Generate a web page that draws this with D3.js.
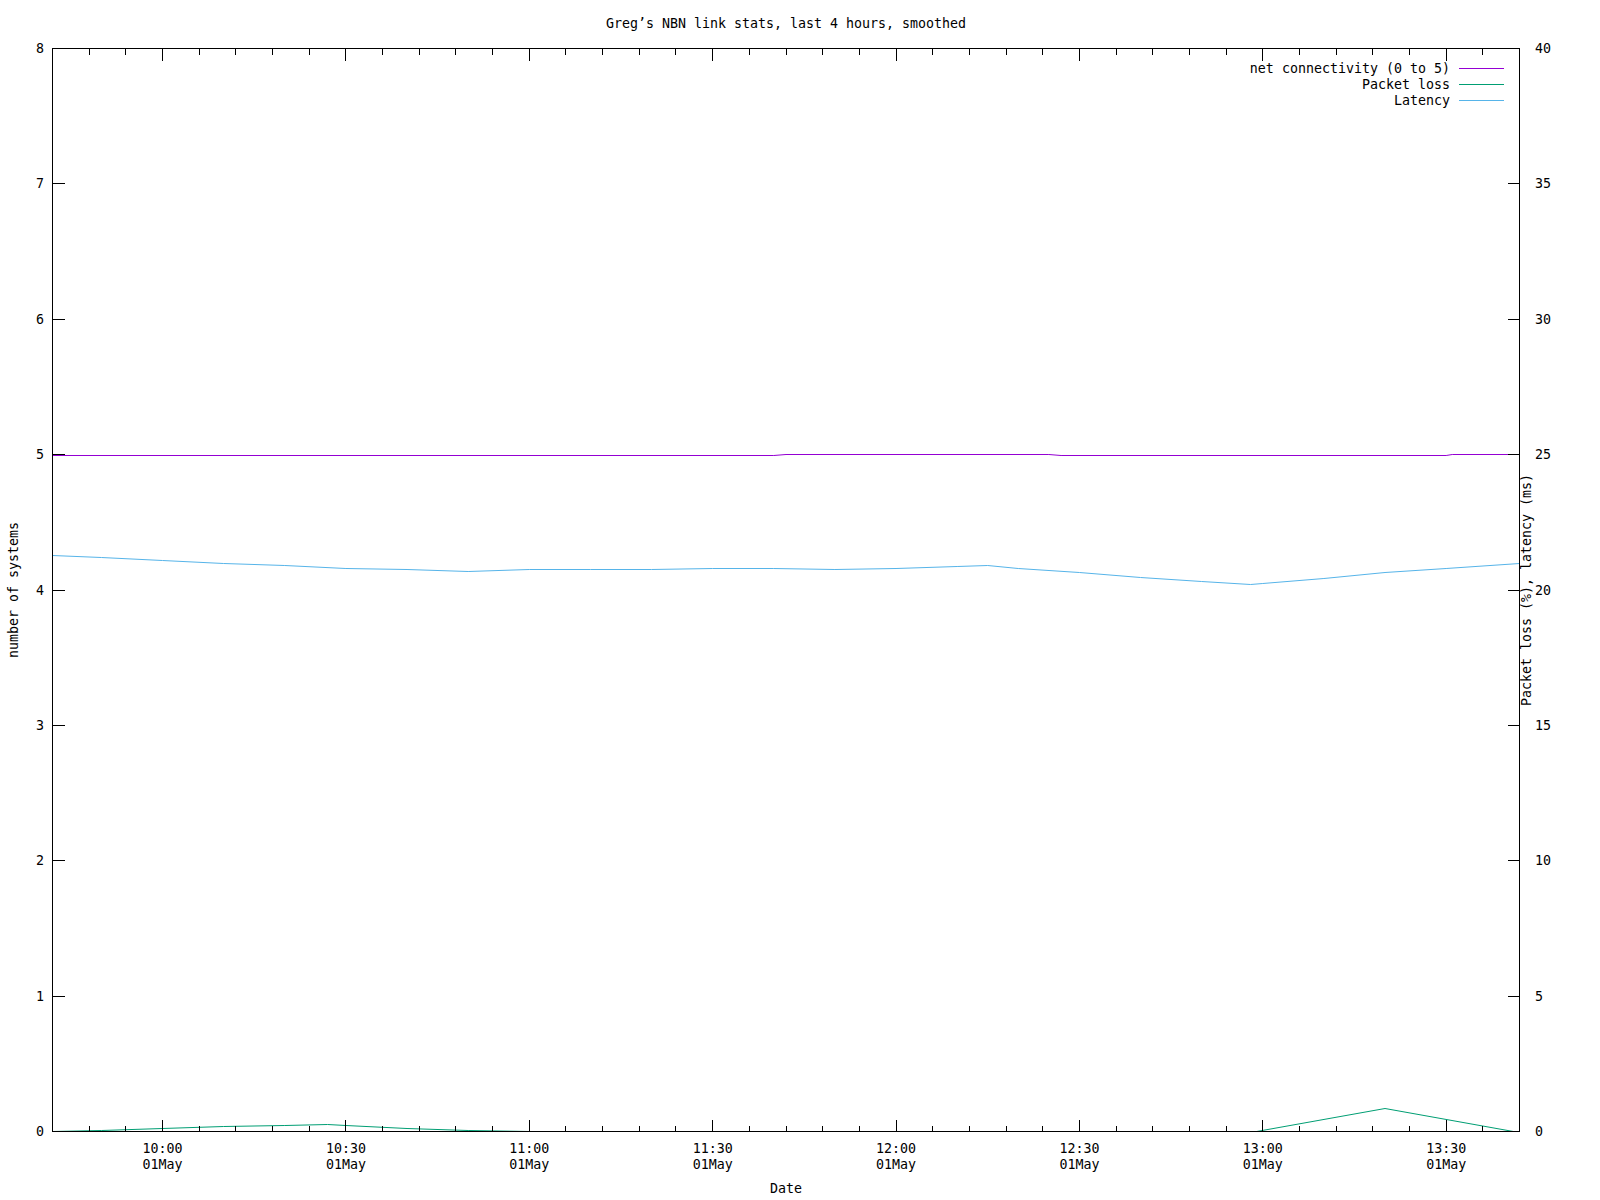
<!DOCTYPE html>
<html>
<head>
<meta charset="utf-8">
<script src="https://cdn.jsdelivr.net/npm/d3@7"></script>
<style>
  html, body { margin: 0; padding: 0; background: #fff; }
  svg text { font-family: "DejaVu Sans Mono", "Liberation Mono", monospace; font-size: 13.3px; fill: #000; }
</style>
</head>
<body>
<svg id="chart" width="1600" height="1200"></svg>
<script>
// ---- data ----
const title = "Greg\u2019s NBN link stats, last 4 hours, smoothed";
const xLabel = "Date";
const yLabel = "number of systems";
const y2Label = "Packet loss (%), latency (ms)";
const seriesNames = ["net connectivity (0 to 5)", "Packet loss", "Latency"];
const seriesColors = ["#9400d3", "#009e73", "#56b4e9"];

const domainStart = "09:42";
const domainEnd = "13:42";

const yTicks = [0, 1, 2, 3, 4, 5, 6, 7, 8];
const y2Ticks = [0, 5, 10, 15, 20, 25, 30, 35, 40];

// net connectivity (left axis)
const connTimes  = ["09:42", "11:40", "11:42", "12:25", "12:27", "13:30", "13:31", "13:42"];
const connValues = [4.993, 4.993, 5.0, 5.0, 4.993, 4.993, 5.0, 5.0];

// packet loss (right axis, %)
const lossTimes  = ["09:42", "09:50", "10:00", "10:10", "10:20", "10:27", "10:30", "10:40", "10:50", "11:00", "12:59", "13:20", "13:41"];
const lossValues = [0.01, 0.05, 0.10, 0.17, 0.22, 0.26, 0.24, 0.11, 0.03, 0.0, 0.0, 0.84, 0.0];

// latency (right axis, ms)
const latTimes  = ["09:42", "09:50", "10:00", "10:10", "10:20", "10:30", "10:40", "10:50", "11:00", "11:10", "11:20", "11:30", "11:40", "11:50", "12:00", "12:10", "12:15", "12:20", "12:30", "12:40", "12:50", "12:58", "13:00", "13:10", "13:20", "13:30", "13:42"];
const latValues = [21.28, 21.21, 21.10, 20.99, 20.89, 20.80, 20.74, 20.70, 20.74, 20.77, 20.77, 20.81, 20.81, 20.77, 20.79, 20.87, 20.92, 20.81, 20.63, 20.46, 20.31, 20.21, 20.24, 20.42, 20.64, 20.81, 20.99];

// ---- drawing ----
const toDate = s => { const [h, m] = s.split(":").map(Number); return new Date(2024, 4, 1, h, m); };

const L = 52.5, R = 1519.5, T = 48.5, B = 1131.5;
const svg = d3.select("#chart");

const x = d3.scaleTime().domain([toDate(domainStart), toDate(domainEnd)]).range([L, R]);
const y = d3.scaleLinear().domain([0, 8]).range([B, T]);
const y2 = d3.scaleLinear().domain([0, 40]).range([B, T]);

// title
svg.append("text").attr("x", (L + R) / 2).attr("y", 28).attr("text-anchor", "middle").text(title);

// series
const plot = svg.append("g");
function drawLine(times, values, scale, color) {
  const data = times.map((t, i) => [toDate(t), values[i]]);
  plot.append("path")
    .datum(data)
    .attr("fill", "none")
    .attr("stroke", color)
    .attr("stroke-width", 1)
    .attr("d", d3.line().x(d => x(d[0])).y(d => Math.round(scale(d[1]) - 0.5) + 0.5));
}
drawLine(connTimes, connValues, y, seriesColors[0]);
drawLine(lossTimes, lossValues, y2, seriesColors[1]);
drawLine(latTimes, latValues, y2, seriesColors[2]);

// axes / ticks
const ax = svg.append("g").attr("stroke", "#000").attr("stroke-width", 1).attr("shape-rendering", "crispEdges");
const minor = x.ticks(d3.timeMinute.every(6));
const major = x.ticks(d3.timeMinute.every(30));
const majorSet = new Set(major.map(d => +d));
minor.forEach(d => {
  const len = majorSet.has(+d) ? 12 : 6;
  const xx = Math.round(x(d) - 0.5) + 0.5;
  ax.append("line").attr("x1", xx).attr("x2", xx).attr("y1", B).attr("y2", B - len);
  ax.append("line").attr("x1", xx).attr("x2", xx).attr("y1", T).attr("y2", T + len);
});
yTicks.forEach(v => {
  ax.append("line").attr("x1", L).attr("x2", L + 12).attr("y1", y(v)).attr("y2", y(v));
});
y2Ticks.forEach(v => {
  ax.append("line").attr("x1", R).attr("x2", R - 12).attr("y1", y2(v)).attr("y2", y2(v));
});
ax.append("rect").attr("x", L).attr("y", T).attr("width", R - L).attr("height", B - T).attr("fill", "none");

// tick labels
const fmtTime = d3.timeFormat("%H:%M");
const fmtDay = d3.timeFormat("%d%b");
major.forEach(d => {
  svg.append("text").attr("x", x(d)).attr("y", 1153).attr("text-anchor", "middle").text(fmtTime(d));
  svg.append("text").attr("x", x(d)).attr("y", 1169).attr("text-anchor", "middle").text(fmtDay(d));
});
yTicks.forEach(v => {
  svg.append("text").attr("x", 44).attr("y", y(v) + 4.5).attr("text-anchor", "end").text(v);
});
y2Ticks.forEach(v => {
  svg.append("text").attr("x", 1535).attr("y", y2(v) + 4.5).attr("text-anchor", "start").text(v);
});

// axis titles
svg.append("text").attr("x", (L + R) / 2).attr("y", 1193).attr("text-anchor", "middle").text(xLabel);
svg.append("text").attr("transform", `translate(18,${(T + B) / 2}) rotate(-90)`).attr("text-anchor", "middle").text(yLabel);
svg.append("text").attr("transform", `translate(1531,${(T + B) / 2}) rotate(-90)`).attr("text-anchor", "middle").text(y2Label);

// legend
seriesNames.forEach((name, i) => {
  const yy = 68.5 + i * 16;
  svg.append("text").attr("x", 1450).attr("y", yy + 4.5).attr("text-anchor", "end").text(name);
  svg.append("line").attr("x1", 1459).attr("x2", 1504).attr("y1", yy).attr("y2", yy)
    .attr("stroke", seriesColors[i]).attr("stroke-width", 1).attr("shape-rendering", "crispEdges");
});
</script>
</body>
</html>
